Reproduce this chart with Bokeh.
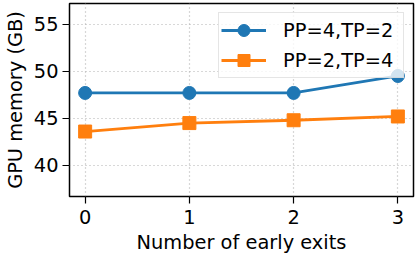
from bokeh.plotting import figure
from bokeh.models import Range1d, FixedTicker, Legend, LegendItem
from bokeh.embed import file_html
from bokeh.resources import INLINE

exits = [0, 1, 2, 3]
pp4_tp2 = [47.7, 47.7, 47.7, 49.5]
pp2_tp4 = [43.6, 44.5, 44.8, 45.2]
x_ticks = [0, 1, 2, 3]
y_ticks = [40, 45, 50, 55]
labels = ["PP=4,TP=2", "PP=2,TP=4"]
colors = ["#1f77b4", "#ff7f0e"]

FONT = "DejaVu Sans"
FS = "19.4px"

p = figure(width=416, height=259, output_backend="svg", toolbar_location=None,
           x_range=Range1d(-0.15, 3.15), y_range=Range1d(36.7, 57.2),
           min_border_left=60, min_border_right=3, min_border_top=3, min_border_bottom=63)

p.background_fill_color = "white"
p.border_fill_color = "white"
p.outline_line_color = "black"
p.outline_line_width = 1.5

for ax in (p.xaxis[0], p.yaxis[0]):
    ax.axis_line_color = None
    ax.major_tick_line_color = "black"
    ax.major_tick_line_width = 1.2
    ax.major_tick_out = 7
    ax.major_tick_in = 0
    ax.minor_tick_out = 0
    ax.minor_tick_in = 0
    ax.major_label_text_font = FONT
    ax.major_label_text_font_size = FS
    ax.major_label_text_color = "black"
    ax.axis_label_text_font = FONT
    ax.axis_label_text_font_size = FS
    ax.axis_label_text_font_style = "normal"
    ax.axis_label_text_color = "black"

p.xaxis.ticker = FixedTicker(ticks=x_ticks)
p.yaxis.ticker = FixedTicker(ticks=y_ticks)
p.xaxis.axis_label = "Number of early exits"
p.yaxis.axis_label = "GPU memory (GB)"
p.xaxis.major_label_standoff = 6
p.yaxis.major_label_standoff = 4
p.xaxis.axis_label_standoff = 4
p.yaxis.axis_label_standoff = 4

for g in (p.xgrid[0], p.ygrid[0]):
    g.grid_line_color = "#b0b0b0"
    g.grid_line_dash = "1 3"
    g.grid_line_width = 1.2

l1 = p.line(exits, pp4_tp2, line_color=colors[0], line_width=2.8)
m1 = p.scatter(exits, pp4_tp2, marker="circle", size=13, fill_color=colors[0], line_color=colors[0])
l2 = p.line(exits, pp2_tp4, line_color=colors[1], line_width=2.8)
m2 = p.scatter(exits, pp2_tp4, marker="square", size=13, fill_color=colors[1], line_color=colors[1])

legend = Legend(items=[LegendItem(label=labels[0], renderers=[l1, m1]),
                       LegendItem(label=labels[1], renderers=[l2, m2])],
                location="top_right")
legend.label_text_font = FONT
legend.label_text_font_size = FS
legend.label_text_color = "black"
legend.glyph_width = 45
legend.glyph_height = 30
legend.label_standoff = 17
legend.label_height = 30
legend.label_width = 118
legend.spacing = 0
legend.padding = 2
legend.margin = 9
legend.border_line_color = "#cccccc"
legend.border_line_width = 1.2
legend.background_fill_alpha = 0.8
p.add_layout(legend)

open("out.html", "w").write(file_html(p, INLINE))
